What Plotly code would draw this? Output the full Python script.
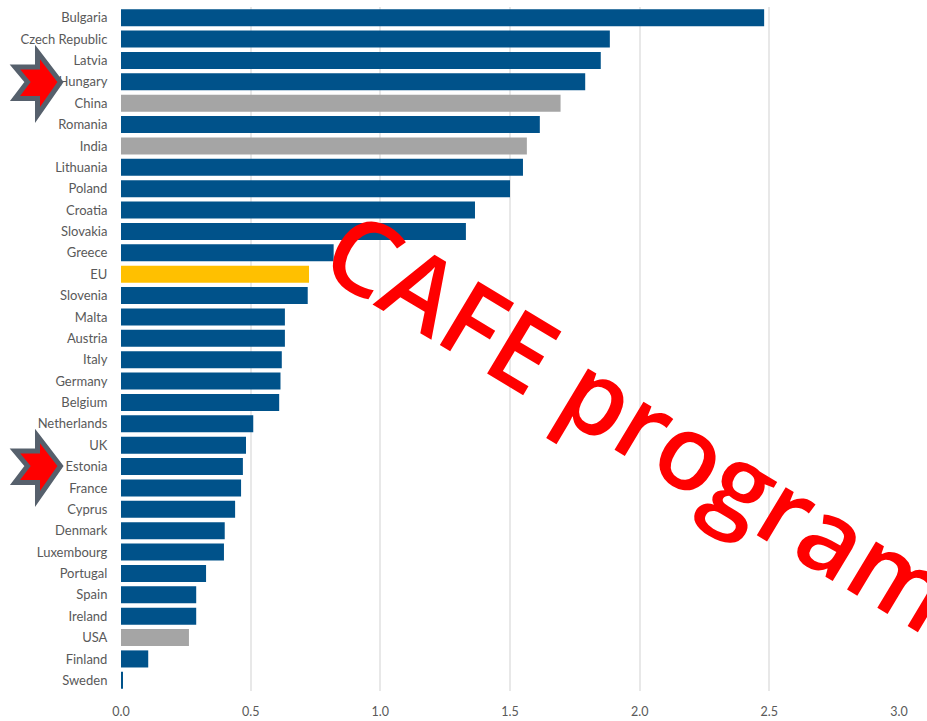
import plotly.graph_objects as go

countries = ["Bulgaria","Czech Republic","Latvia","Hungary","China","Romania","India","Lithuania","Poland","Croatia","Slovakia","Greece","EU","Slovenia","Malta","Austria","Italy","Germany","Belgium","Netherlands","UK","Estonia","France","Cyprus","Denmark","Luxembourg","Portugal","Spain","Ireland","USA","Finland","Sweden"]
values = [2.48,1.885,1.85,1.79,1.695,1.615,1.565,1.55,1.50,1.365,1.33,0.82,0.725,0.72,0.632,0.632,0.62,0.615,0.61,0.51,0.482,0.47,0.463,0.44,0.40,0.397,0.328,0.29,0.29,0.262,0.105,0.004]
GREY = {"China","India","USA"}
YELLOW = {"EU"}
W, H = 927, 721
ML, MR, MT, MB = 121, 28, 7, 30
colors = ["#a5a5a5" if c in GREY else "#ffc000" if c in YELLOW else "#00528a" for c in countries]

fig = go.Figure(go.Bar(y=countries, x=values, orientation="h", marker=dict(color=colors, line=dict(width=0))))

star = [(37.5,52),(60.5,82),(37.5,115),(37.5,98.5),(15,98.5),(27.5,82),(15,67),(37.5,67)]
def star_path(dy):
    pts = [((x-ML)/(W-ML-MR), 1-(y+dy-MT)/(H-MT-MB)) for x,y in star]
    return "M " + " L ".join(f"{a:.5f},{b:.5f}" for a,b in pts) + " Z"
shapes = [dict(type="path", xref="paper", yref="paper", path=star_path(dy), fillcolor="#ff0000",
               line=dict(color="#56606c", width=5), layer="above") for dy in (0,384)]

fig.update_layout(
    width=W, height=H, autosize=False,
    margin=dict(l=ML, r=MR, t=MT, b=MB, pad=0, autoexpand=False),
    paper_bgcolor="white", plot_bgcolor="white", bargap=0.2, showlegend=False,
    font=dict(family="Lato", size=13, color="#595959"),
    xaxis=dict(range=[0,3], automargin=False, tickvals=[0,0.5,1,1.5,2,2.5,3], ticktext=["0.0","0.5","1.0","1.5","2.0","2.5","3.0"],
               showgrid=True, gridcolor="#e8e8e8", gridwidth=1.5, zeroline=False, showline=False, ticks="outside", ticklen=9, tickcolor="rgba(0,0,0,0)",
               tickfont=dict(size=12.5, color="#595959")),
    yaxis=dict(autorange="reversed", automargin=False, showgrid=False, zeroline=False, showline=False, ticks="outside", ticklen=10, tickcolor="rgba(0,0,0,0)",
               tickfont=dict(size=13, color="#595959")),
    shapes=shapes,
    annotations=[dict(text="CAFE program", xref="paper", yref="paper", x=0.668, y=0.398, xanchor="center", yanchor="middle",
                      textangle=31, showarrow=False, font=dict(family="Open Sans", size=104, weight=600, color="#ff0000"))],
)
fig.write_html("out.html", config=dict(displayModeBar=False),
               post_script="document.body.style.margin='0';document.body.style.overflow='hidden';")
